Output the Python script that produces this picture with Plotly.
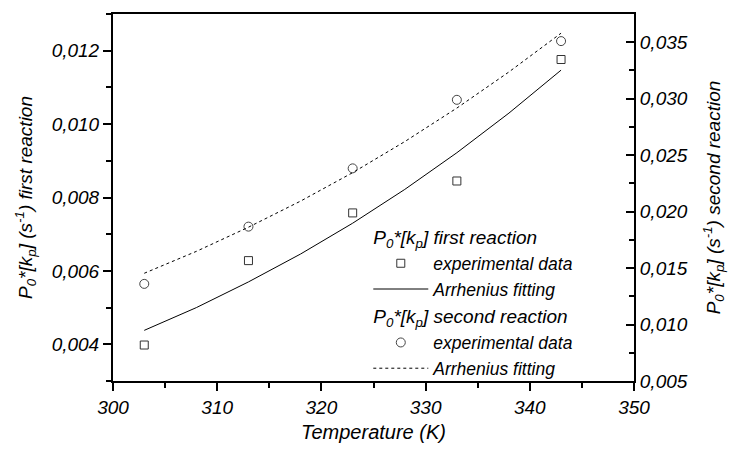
import plotly.graph_objects as go

# Data
temps = [303, 313, 323, 333, 343]
k_first = [0.00398, 0.00628, 0.00758, 0.00845, 0.01176]
k_second = [0.0136, 0.01867, 0.02383, 0.0299, 0.0351]

fit_temps = [303, 308, 313, 318, 323, 328, 333, 338, 343]
fit_first = [0.00438, 0.00500, 0.00570, 0.00646, 0.00730, 0.00822, 0.00922, 0.01030, 0.01147]
fit_second = [0.01454, 0.01648, 0.01862, 0.02093, 0.02345, 0.02620, 0.02917, 0.03237, 0.0358]

t1 = "P<sub>0</sub>*[k<sub>p</sub>] first reaction"
t2 = "P<sub>0</sub>*[k<sub>p</sub>] second reaction"

fig = go.Figure()
fig.add_trace(go.Scatter(
    x=temps, y=k_first, mode="markers", name="experimental data",
    legendgroup="g1", legendgrouptitle=dict(text=t1, font=dict(size=19)),
    marker=dict(symbol="square-open", size=8, color="#333", line=dict(width=1)),
))
fig.add_trace(go.Scatter(
    x=fit_temps, y=fit_first, mode="lines", name="Arrhenius fitting",
    legendgroup="g1", line=dict(color="black", width=1),
))
fig.add_trace(go.Scatter(
    x=temps, y=k_second, mode="markers", name="experimental data", yaxis="y2",
    legendgroup="g2", legendgrouptitle=dict(text=t2, font=dict(size=19)),
    marker=dict(symbol="circle-open", size=9, color="#444", line=dict(width=1)),
))
fig.add_trace(go.Scatter(
    x=fit_temps, y=fit_second, mode="lines", name="Arrhenius fitting", yaxis="y2",
    legendgroup="g2", line=dict(color="black", width=1, dash="3px,3px"),
))

fig.update_layout(
    width=734, height=452,
    margin=dict(l=113, r=100, t=13, b=61),
    paper_bgcolor="white", plot_bgcolor="white",
    separators=",.",
    font=dict(family="Liberation Sans, Arial, sans-serif", style="italic", size=19, color="black"),
    showlegend=True,
    legend=dict(
        x=0.49, y=0.445, xanchor="left", yanchor="top",
        bgcolor="rgba(0,0,0,0)", font=dict(size=17.5),
        traceorder="grouped", tracegroupgap=0, itemwidth=55,
    ),
    xaxis=dict(
        range=[300, 350], dtick=10, tick0=300,
        showline=True, linecolor="black", linewidth=2, mirror=True,
        ticks="outside", ticklen=8, tickwidth=1.5, tickcolor="black",
        minor=dict(dtick=5, ticks="outside", ticklen=5, tickcolor="black"),
        showgrid=False, zeroline=False,
        title=dict(text="Temperature (K)", font=dict(size=20), standoff=8),
    ),
    yaxis=dict(
        range=[0.003, 0.013], tick0=0.004, dtick=0.002, tickformat=".3f",
        showline=True, linecolor="black", linewidth=2,
        ticks="outside", ticklen=8, tickwidth=1.5, tickcolor="black",
        minor=dict(dtick=0.001, ticks="outside", ticklen=5, tickcolor="black"),
        showgrid=False, zeroline=False,
        title=dict(text="P<sub>0</sub>*[k<sub>p</sub>] (s<sup>-1</sup>) first reaction",
                   font=dict(size=19), standoff=14),
    ),
    yaxis2=dict(
        overlaying="y", side="right",
        range=[0.005, 0.0375], tick0=0.005, dtick=0.005, tickformat=".3f",
        showline=True, linecolor="black", linewidth=2,
        ticks="inside", ticklen=8, tickwidth=1.5, tickcolor="black",
        minor=dict(dtick=0.0025, ticks="inside", ticklen=5, tickcolor="black"),
        showgrid=False, zeroline=False,
        title=dict(text="P<sub>0</sub>*[k<sub>p</sub>] (s<sup>-1</sup>) second reaction",
                   font=dict(size=19), standoff=20),
    ),
)

fig.write_html("out.html")
